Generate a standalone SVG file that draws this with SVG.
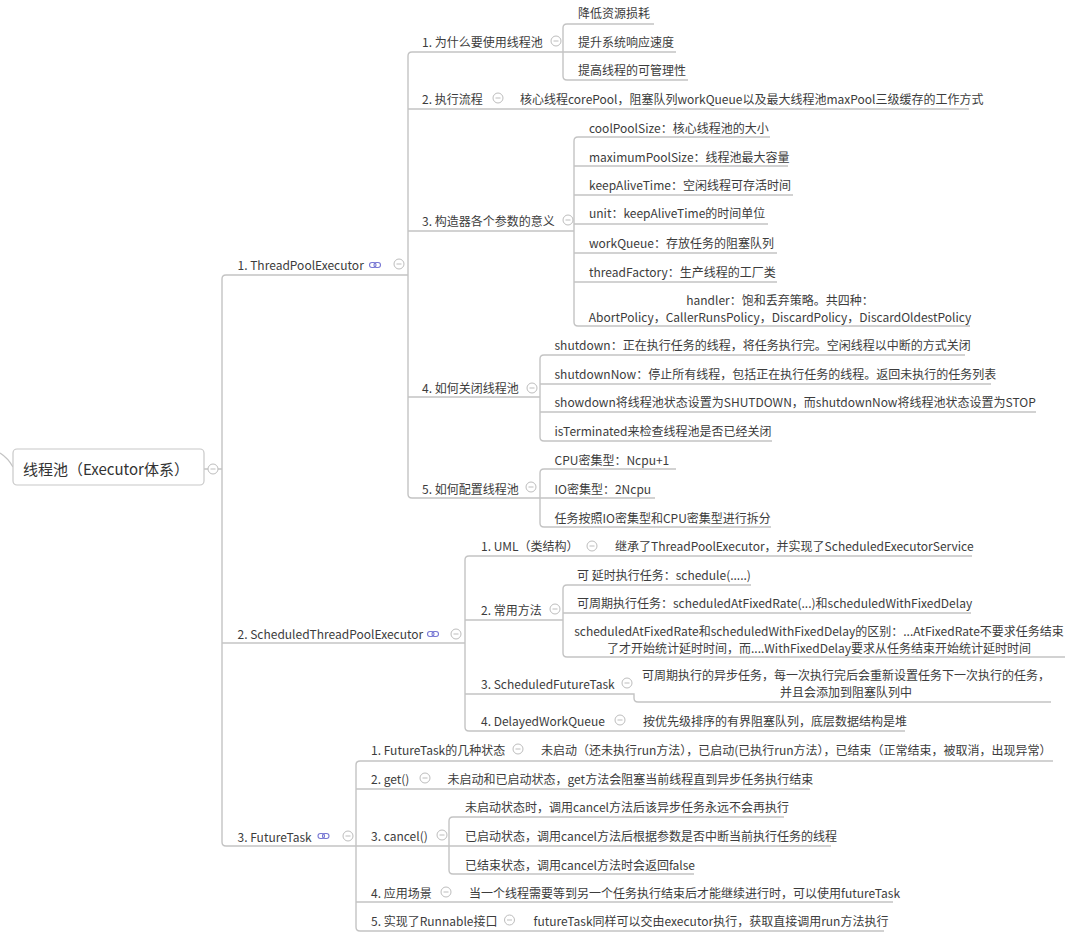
<svg xmlns="http://www.w3.org/2000/svg" width="1080" height="941" viewBox="0 0 1080 941">
<style>
.t{font-family:"Noto Sans CJK SC","Noto Sans",sans-serif;font-size:12px;fill:#3c3c3c}
.m{text-anchor:middle}
.root{font-size:15px;fill:#333}
.ln{fill:none;stroke:#c4c4c4;stroke-width:1.4}
.box{fill:#fff;stroke:#c8c8c8;stroke-width:1.2}
</style>
<defs>
<g id="col"><circle r="5" fill="#fff" stroke="#bdbdbd" stroke-width="1"/><path d="M-2.5 0H2.5" stroke="#bdbdbd" stroke-width="1"/></g>
<g id="lnk" fill="none" stroke="#7878d4" stroke-width="1.1"><rect x="-5.5" y="-2.5" width="6.5" height="5" rx="2.5"/><rect x="-1" y="-2.5" width="6.5" height="5" rx="2.5"/></g>
</defs>
<rect width="1080" height="941" fill="#fff"/>
<g id="connectors" class="ln">
<path d="M0 453 Q8 458 13 467"/>
<path d="M204 469 H208 M218 469 H222"/>
<path d="M408 275 H226 Q222 275 222 279 V842 Q222 846 226 846 H449"/>
<path d="M222 643 H465"/>
<path d="M563 52 H412 Q408 52 408 56 V494 Q408 498 412 498 H540"/>
<path d="M408 109 H969 M408 231 H574 M408 397 H540"/>
<path d="M654 24 H567 Q563 24 563 28 V76 Q563 80 567 80 H688 M563 52 H676"/>
<path d="M770 137 H578 Q574 137 574 141 V322 Q574 326 578 326 H970 M574 166 H788 M574 195 H793 M574 224 H768 M574 253 H777 M574 282 H777"/>
<path d="M965 355 H544 Q540 355 540 359 V437 Q540 441 544 441 H772 M540 384 H991 M540 412 H1036"/>
<path d="M676 469 H544 Q540 469 540 473 V523 Q540 527 544 527 H771 M540 498 H655"/>
<path d="M972 556 H469 Q465 556 465 560 V727 Q465 731 469 731 H905 M465 620 H563 M465 694 H634 V698 Q634 702 638 702 H1051"/>
<path d="M751 585 H567 Q563 585 563 589 V653 Q563 657 567 657 H1065 M563 613 H971"/>
<path d="M1053 761 H360 Q356 761 356 765 V927 Q356 931 360 931 H884 M356 789 H810 M356 902 H893"/>
<path d="M784 817 H453 Q449 817 449 821 V870 Q449 874 453 874 H694 M449 846 H831"/>
</g>
<g id="root">
<rect class="box" x="13" y="449" width="191" height="36" rx="4"/>
<text class="t root" x="23" y="474.5">线程池（Executor体系）</text>
<use href="#col" x="213" y="469"/>
</g>
<g id="n1">
<text class="t" x="237.5" y="269.5">1. ThreadPoolExecutor</text>
<use href="#lnk" x="375" y="265"/><use href="#col" x="399" y="264"/>
</g>
<g id="n1-1">
<text class="t" x="422" y="46.5">1. 为什么要使用线程池</text><use href="#col" x="556" y="41"/>
</g>
<g id="n1-1-a"><text class="t" x="578" y="17.5">降低资源损耗</text></g>
<g id="n1-1-b"><text class="t" x="578" y="46.5">提升系统响应速度</text></g>
<g id="n1-1-c"><text class="t" x="578" y="74.5">提高线程的可管理性</text></g>
<g id="n1-2">
<text class="t" x="422" y="103.5">2. 执行流程</text><use href="#col" x="498" y="98"/>
</g>
<g id="n1-2-a"><text class="t" x="520" y="103.5">核心线程corePool，阻塞队列workQueue以及最大线程池maxPool三级缓存的工作方式</text></g>
<g id="n1-3">
<text class="t" x="422" y="225.5">3. 构造器各个参数的意义</text><use href="#col" x="568" y="220"/>
</g>
<g id="n1-3-a"><text class="t" x="589" y="132.5">coolPoolSize：核心线程池的大小</text></g>
<g id="n1-3-b"><text class="t" x="589" y="161.5">maximumPoolSize：线程池最大容量</text></g>
<g id="n1-3-c"><text class="t" x="589" y="189.5">keepAliveTime：空闲线程可存活时间</text></g>
<g id="n1-3-d"><text class="t" x="589" y="218">unit：keepAliveTime的时间单位</text></g>
<g id="n1-3-e"><text class="t" x="589" y="247.5">workQueue：存放任务的阻塞队列</text></g>
<g id="n1-3-f"><text class="t" x="589" y="276.5">threadFactory：生产线程的工厂类</text></g>
<g id="n1-3-g"><text class="t m" x="780" y="304.5">handler：饱和丢弃策略。共四种：</text><text class="t m" x="780" y="321.5">AbortPolicy，CallerRunsPolicy，DiscardPolicy，DiscardOldestPolicy</text></g>
<g id="n1-4">
<text class="t" x="422" y="392.5">4. 如何关闭线程池</text><use href="#col" x="532" y="388"/>
</g>
<g id="n1-4-a"><text class="t" x="554.5" y="349.5">shutdown：正在执行任务的线程，将任务执行完。空闲线程以中断的方式关闭</text></g>
<g id="n1-4-b"><text class="t" x="554.5" y="378.5">shutdownNow：停止所有线程，包括正在执行任务的线程。返回未执行的任务列表</text></g>
<g id="n1-4-c"><text class="t" x="554.5" y="406.5">showdown将线程池状态设置为SHUTDOWN，而shutdownNow将线程池状态设置为STOP</text></g>
<g id="n1-4-d"><text class="t" x="554.5" y="435.5">isTerminated来检查线程池是否已经关闭</text></g>
<g id="n1-5">
<text class="t" x="422" y="493.5">5. 如何配置线程池</text><use href="#col" x="531" y="487"/>
</g>
<g id="n1-5-a"><text class="t" x="554.5" y="464.5">CPU密集型：Ncpu+1</text></g>
<g id="n1-5-b"><text class="t" x="554.5" y="493.5">IO密集型：2Ncpu</text></g>
<g id="n1-5-c"><text class="t" x="554.5" y="522.5">任务按照IO密集型和CPU密集型进行拆分</text></g>
<g id="n2">
<text class="t" x="237.5" y="638.5">2. ScheduledThreadPoolExecutor</text>
<use href="#lnk" x="433" y="634"/><use href="#col" x="456" y="634"/>
</g>
<g id="n2-1">
<text class="t" x="481" y="550.5">1. UML（类结构）</text><use href="#col" x="592" y="546"/>
</g>
<g id="n2-1-a"><text class="t" x="615" y="550.5">继承了ThreadPoolExecutor，并实现了ScheduledExecutorService</text></g>
<g id="n2-2">
<text class="t" x="481" y="615">2. 常用方法</text><use href="#col" x="555" y="609"/>
</g>
<g id="n2-2-a"><text class="t" x="577" y="579.5">可 延时执行任务：schedule(.....)</text></g>
<g id="n2-2-b"><text class="t" x="577" y="607.5">可周期执行任务：scheduledAtFixedRate(...)和scheduledWithFixedDelay</text></g>
<g id="n2-2-c"><text class="t m" x="819" y="635.5">scheduledAtFixedRate和scheduledWithFixedDelay的区别：...AtFixedRate不要求任务结束</text><text class="t m" x="819" y="652.5">了才开始统计延时时间，而....WithFixedDelay要求从任务结束开始统计延时时间</text></g>
<g id="n2-3">
<text class="t" x="481" y="688.5">3. ScheduledFutureTask</text><use href="#col" x="627" y="683"/>
</g>
<g id="n2-3-a"><text class="t m" x="846" y="680">可周期执行的异步任务，每一次执行完后会重新设置任务下一次执行的任务，</text><text class="t m" x="846" y="697">并且会添加到阻塞队列中</text></g>
<g id="n2-4">
<text class="t" x="481" y="726">4. DelayedWorkQueue</text><use href="#col" x="620" y="720"/>
</g>
<g id="n2-4-a"><text class="t" x="643" y="726">按优先级排序的有界阻塞队列，底层数据结构是堆</text></g>
<g id="n3">
<text class="t" x="237.5" y="841.5">3. FutureTask</text>
<use href="#lnk" x="323.5" y="836"/><use href="#col" x="348" y="836"/>
</g>
<g id="n3-1">
<text class="t" x="371" y="755">1. FutureTask的几种状态</text><use href="#col" x="518" y="749"/>
</g>
<g id="n3-1-a"><text class="t" x="541" y="755">未启动（还未执行run方法），已启动(已执行run方法），已结束（正常结束，被取消，出现异常）</text></g>
<g id="n3-2">
<text class="t" x="371" y="783.5">2. get()</text><use href="#col" x="425" y="778"/>
</g>
<g id="n3-2-a"><text class="t" x="447.5" y="783.5">未启动和已启动状态，get方法会阻塞当前线程直到异步任务执行结束</text></g>
<g id="n3-3">
<text class="t" x="371" y="841">3. cancel()</text><use href="#col" x="442" y="835"/>
</g>
<g id="n3-3-a"><text class="t" x="465" y="811.5">未启动状态时，调用cancel方法后该异步任务永远不会再执行</text></g>
<g id="n3-3-b"><text class="t" x="465" y="841">已启动状态，调用cancel方法后根据参数是否中断当前执行任务的线程</text></g>
<g id="n3-3-c"><text class="t" x="465" y="869.5">已结束状态，调用cancel方法时会返回false</text></g>
<g id="n3-4">
<text class="t" x="371" y="897.5">4. 应用场景</text><use href="#col" x="446" y="892"/>
</g>
<g id="n3-4-a"><text class="t" x="469" y="897.5">当一个线程需要等到另一个任务执行结束后才能继续进行时，可以使用futureTask</text></g>
<g id="n3-5">
<text class="t" x="371" y="926">5. 实现了Runnable接口</text><use href="#col" x="509.5" y="920"/>
</g>
<g id="n3-5-a"><text class="t" x="533.5" y="926">futureTask同样可以交由executor执行，获取直接调用run方法执行</text></g>
</svg>
